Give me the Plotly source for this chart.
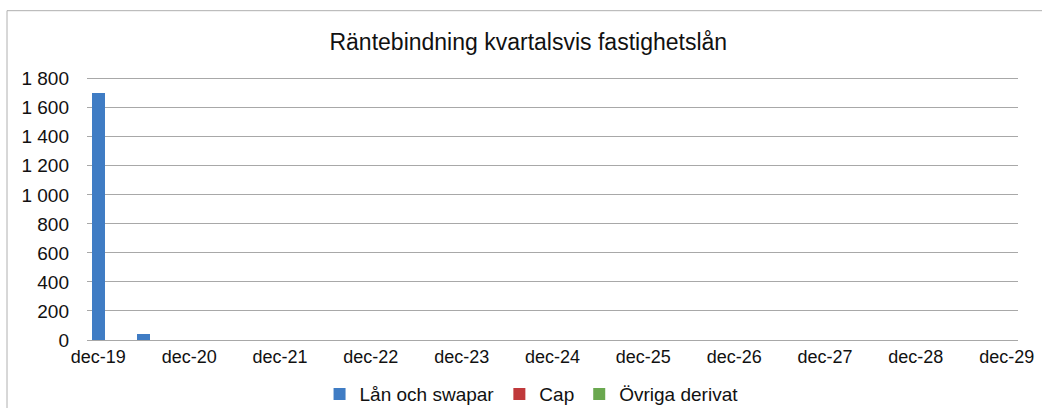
import plotly.graph_objects as go

# Quarterly categories dec-19 .. dec-29
months = ["mar", "jun", "sep", "dec"]
quarters = ["dec-19"]
for yr in range(20, 30):
    for m in months:
        quarters.append(f"{m}-{yr}")

lan_och_swapar = [1700, 0, 40] + [0] * 38
cap = [0] * 41
ovriga_derivat = [0] * 41

x_tickvals = [q for q in quarters if q.startswith("dec")]
y_tickvals = [0, 200, 400, 600, 800, 1000, 1200, 1400, 1600, 1800]
y_ticktext = ["0", "200", "400", "600", "800", "1 000", "1 200", "1 400", "1 600", "1 800"]

FONT = "Liberation Sans, Arial, sans-serif"

fig = go.Figure()
fig.add_trace(go.Bar(name="Lån och swapar", x=quarters, y=lan_och_swapar,
                     marker=dict(color="#3F7CC4", line=dict(width=0))))
fig.add_trace(go.Bar(name="Cap", x=quarters, y=cap,
                     marker=dict(color="#C0393B", line=dict(width=0))))
fig.add_trace(go.Bar(name="Övriga derivat", x=quarters, y=ovriga_derivat,
                     marker=dict(color="#6AA84F", line=dict(width=0))))

W, H = 1042, 408
Y_TOP = 1812
L, R, B = 87, 24, 68
T = (H - B) - 261 * Y_TOP / 1800
pw, ph = W - L - R, H - T - B

def px_x(x):
    return (x - L) / pw

def px_y(y):
    return (H - B - y) / ph

fig.update_layout(
    width=W, height=H,
    margin=dict(l=L, r=R, t=T, b=B, pad=0, autoexpand=False),
    paper_bgcolor="white", plot_bgcolor="white",
    barmode="stack", bargap=0.43,
    font=dict(family=FONT, color="#111111", size=18),
    title=dict(text="Räntebindning kvartalsvis fastighetslån",
               x=0.507, xanchor="center", y=1 - 42 / H, yanchor="middle",
               font=dict(size=23, family=FONT, color="#111111")),
    xaxis=dict(type="category", categoryorder="array", categoryarray=quarters,
               tickvals=x_tickvals, ticktext=x_tickvals, tickangle=0,
               showgrid=False, showline=True, linecolor="#a8a8a8", linewidth=1,
               ticks="", tickfont=dict(size=18), range=[-0.5, 40.5],
               automargin=False, ticklabelstandoff=0),
    yaxis=dict(range=[0, Y_TOP], tickvals=y_tickvals, ticktext=y_ticktext,
               showgrid=True, gridcolor="#a8a8a8", gridwidth=1,
               zeroline=False, showline=False, ticks="",
               ticklabelstandoff=17, tickfont=dict(size=19), automargin=False),
    legend=dict(orientation="h", x=0.4775, xanchor="center",
                y=px_y(394), yanchor="middle",
                font=dict(size=19, family=FONT, color="#111111"),
                itemwidth=30, tracegroupgap=0, traceorder="normal"),
    showlegend=True,
)

# Chart-area border (left and top visible)
fig.add_shape(type="rect", xref="paper", yref="paper",
              x0=px_x(7), x1=px_x(1060), y0=px_y(420), y1=px_y(11),
              line=dict(color="#b0b0b0", width=1), fillcolor="rgba(0,0,0,0)",
              layer="below")

fig.write_html("out.html", config={"displayModeBar": False},
               post_script="document.body.style.margin='0';document.body.style.overflow='hidden';")
